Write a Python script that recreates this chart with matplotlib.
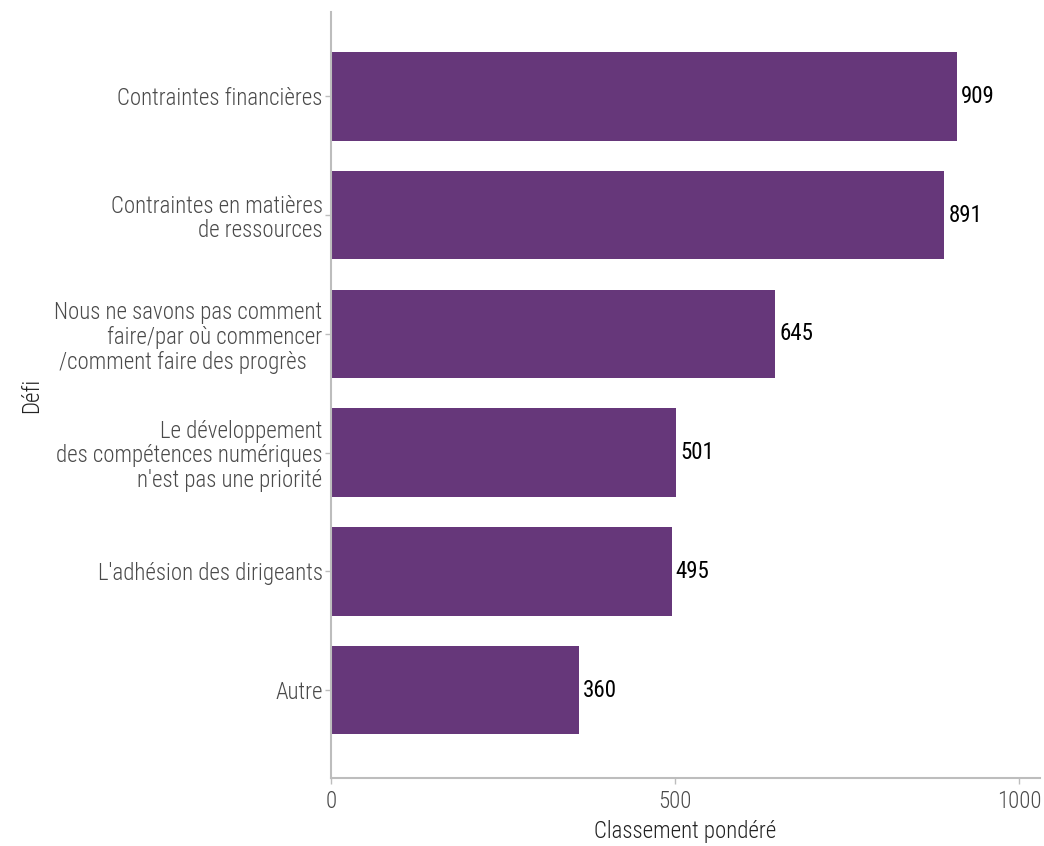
import matplotlib
matplotlib.use("Agg")
import matplotlib.pyplot as plt
from matplotlib import font_manager

# Data
categories = [
    "Contraintes financières",
    "Contraintes en matières\nde ressources",
    "Nous ne savons pas comment\nfaire/par où commencer\n/comment faire des progrès   ",
    "Le développement\ndes compétences numériques\nn'est pas une priorité",
    "L'adhésion des dirigeants",
    "Autre",
]
values = [909, 891, 645, 501, 495, 360]
x_ticks = [0, 500, 1000]

available = {f.name for f in font_manager.fontManager.ttflist}
family = [f for f in ["Roboto Condensed", "Roboto", "DejaVu Sans"] if f in available]
plt.rcParams["font.family"] = family

bar_color = "#66377a"
axis_color = "#bdbdbd"
tick_text = "#4a4a4a"

fig = plt.figure(figsize=(10.44, 8.46), dpi=100)
ax = fig.add_axes([0.317, 0.0804, 0.679, 0.9054])

y = list(range(len(categories)))
ax.barh(y, values, height=0.745, color=bar_color)

for yi, v in zip(y, values):
    ax.annotate(str(v), (v, yi), xytext=(3, 0), textcoords="offset points",
                va="center", ha="left", fontsize=16.5, color="black")

ax.set_ylim(len(categories) - 1 + 0.74, -0.71)
ax.set_xlim(0, 1030)
ax.set_xticks(x_ticks)
ax.set_xticklabels([str(t) for t in x_ticks])
ax.set_yticks(y)
ax.set_yticklabels(categories, fontsize=16.5, color=tick_text, fontweight="light",
                   linespacing=1.1)
for lbl in ax.get_xticklabels():
    lbl.set_fontsize(16.5)
    lbl.set_color(tick_text)
    lbl.set_fontweight("light")

for side in ["top", "right"]:
    ax.spines[side].set_visible(False)
for side in ["left", "bottom"]:
    ax.spines[side].set_color(axis_color)
    ax.spines[side].set_linewidth(1.5)

ax.tick_params(axis="both", colors=axis_color, length=4, width=1)
ax.tick_params(axis="x", labelcolor=tick_text, pad=5)
ax.tick_params(axis="y", labelcolor=tick_text, pad=2)

ax.set_xlabel("Classement pondéré", fontsize=16.5, color="#222222", labelpad=5,
              fontweight="light")
ax.set_ylabel("Défi", fontsize=16.5, color="#222222", labelpad=8,
              fontweight="light")

fig.savefig("out.png", dpi=100)
